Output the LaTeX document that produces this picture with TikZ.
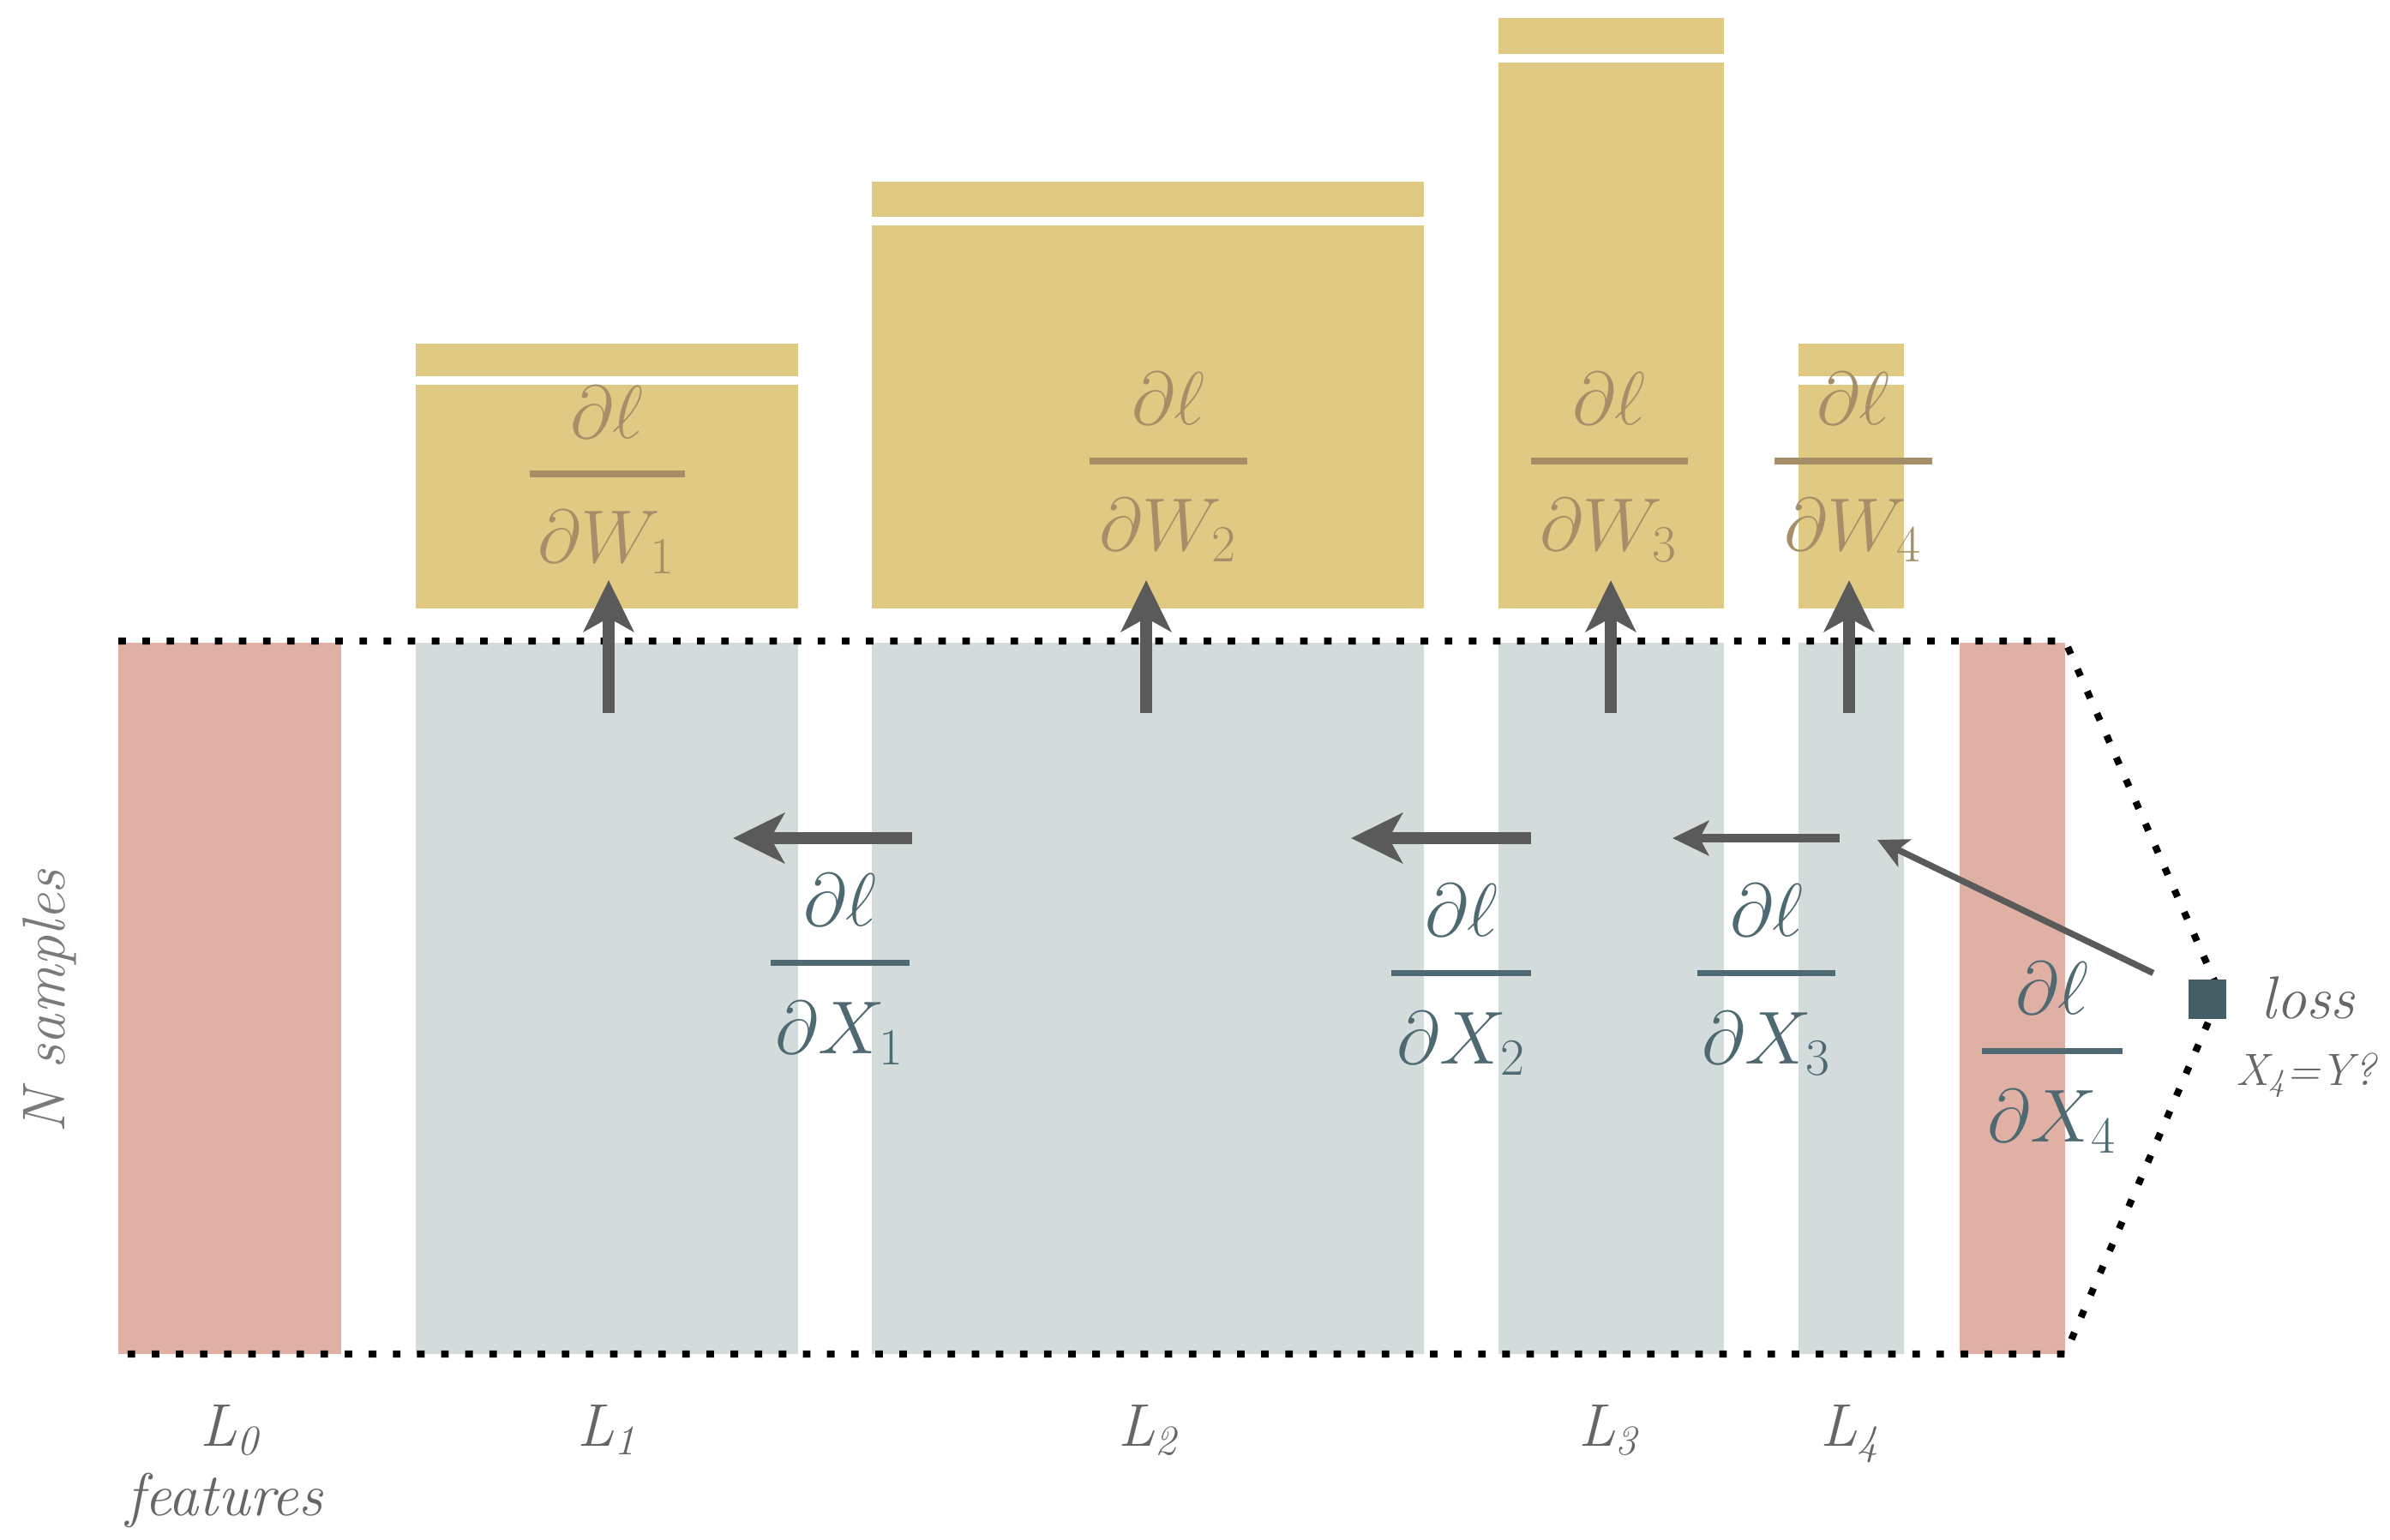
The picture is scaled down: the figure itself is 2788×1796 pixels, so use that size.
\documentclass[tikz,border=0pt]{standalone}
\usetikzlibrary{arrows.meta}
\DeclareMathSizes{24.88}{24.88}{17.28}{14.4}
\definecolor{wgold}{HTML}{DFC983}
\definecolor{xblue}{HTML}{D3DCDB}
\definecolor{xred}{HTML}{E0B0A4}
\definecolor{wtext}{HTML}{A68F68}
\definecolor{xtext}{HTML}{4E6971}
\definecolor{arrowc}{HTML}{5A5A5A}
\definecolor{lossc}{HTML}{445E66}
\definecolor{labc}{HTML}{666666}
\definecolor{nlab}{HTML}{7A7A7A}
\begin{document}
\begin{tikzpicture}[x=0.01cm, y=-0.01cm,
  wbox/.style={fill=wgold},
  bbox/.style={fill=xblue},
  rbox/.style={fill=xred},
  gapline/.style={draw=white, line width=2.6pt},
  dotline/.style={draw=black, line width=2.3pt, dash pattern=on 2.5pt off 5.5pt},
  bigarrow/.style={draw=arrowc, line width=4pt, -{Stealth[length=17pt, width=16.5pt, inset=4.5pt]}},
  midarrow/.style={draw=arrowc, line width=2.9pt, -{Stealth[length=12pt, width=11.5pt, inset=3pt]}},
  thinarrow/.style={draw=arrowc, line width=2.1pt, -{Stealth[length=10pt, width=10pt, inset=2.5pt]}},
  wfrac/.style={text=wtext, font=\fontsize{24.88}{30}\selectfont, inner sep=0pt, anchor=base},
  xfrac/.style={text=xtext, font=\fontsize{24.88}{30}\selectfont, inner sep=0pt, anchor=base},
  wbar/.style={draw=wtext, line width=2.3pt},
  xbar/.style={draw=xtext, line width=2pt},
  lab/.style={text=labc, font=\fontsize{20}{24}\selectfont\itshape, inner sep=0pt, anchor=base},
]
\useasboundingbox (0,0) rectangle (2788,1796);

% ---- data columns ----
\fill[rbox] (138,750) rectangle (398,1580);
\fill[bbox] (485,750) rectangle (931,1580);
\fill[bbox] (1017,750) rectangle (1661,1580);
\fill[bbox] (1748,750) rectangle (2011,1580);
\fill[bbox] (2098,750) rectangle (2221,1580);
\fill[rbox] (2286,750) rectangle (2409,1580);

% ---- weight gradient boxes ----
\fill[wbox] (485,401) rectangle (931,710);
\draw[gapline] (485,444) -- (931,444);
\fill[wbox] (1017,212) rectangle (1661,710);
\draw[gapline] (1017,258) -- (1661,258);
\fill[wbox] (1748,21) rectangle (2011,710);
\draw[gapline] (1748,68) -- (2011,68);
\fill[wbox] (2098,401) rectangle (2221,710);
\draw[gapline] (2098,444) -- (2221,444);

% ---- dotted outline ----
\coordinate (tl) at (138,748);
\coordinate (tr) at (2409,748);
\coordinate (apex) at (2590,1160);
\coordinate (br) at (2409,1580);
\coordinate (bl) at (138,1580);
\draw[dotline] (tl) -- (tr) -- (apex) -- (br) -- (bl);

% ---- dW fractions ----
\node[wfrac] (wn1) at (708,511) {$\partial\ell$};
\draw[wbar] (618,553) -- (799,553);
\node[wfrac] (wd1) at (708,656) {$\partial W_1$};

\node[wfrac] (wn2) at (1363,495) {$\partial\ell$};
\draw[wbar] (1271,538) -- (1455,538);
\node[wfrac] (wd2) at (1363,642) {$\partial W_2$};

\node[wfrac] (wn3) at (1877,495) {$\partial\ell$};
\draw[wbar] (1786,538) -- (1969,538);
\node[wfrac] (wd3) at (1877,642) {$\partial W_3$};

\node[wfrac] (wn4) at (2162,495) {$\partial\ell$};
\draw[wbar] (2070,538) -- (2254,538);
\node[wfrac] (wd4) at (2162,642) {$\partial W_4$};

% ---- dX fractions ----
\node[xfrac] (xn1) at (980,1080) {$\partial\ell$};
\draw[xbar] (899,1123) -- (1061,1123);
\node[xfrac] (xd1) at (980,1229) {$\partial X_1$};

\node[xfrac] (xn2) at (1705,1092) {$\partial\ell$};
\draw[xbar] (1623,1135) -- (1786,1135);
\node[xfrac] (xd2) at (1705,1241) {$\partial X_2$};

\node[xfrac] (xn3) at (2061,1092) {$\partial\ell$};
\draw[xbar] (1980,1135) -- (2141,1135);
\node[xfrac] (xd3) at (2061,1241) {$\partial X_3$};

\node[xfrac] (xn4) at (2394,1183) {$\partial\ell$};
\draw[xbar] (2312,1226) -- (2476,1226);
\node[xfrac] (xd4) at (2394,1332) {$\partial X_4$};

% ---- upward arrows ----
\coordinate (u1s) at (710,832);  \coordinate (u1e) at (710,677);
\coordinate (u2s) at (1337,832); \coordinate (u2e) at (1337,677);
\coordinate (u3s) at (1879,832); \coordinate (u3e) at (1879,677);
\coordinate (u4s) at (2157,832); \coordinate (u4e) at (2157,677);
\draw[bigarrow] (u1s) -- (u1e);
\draw[bigarrow] (u2s) -- (u2e);
\draw[bigarrow] (u3s) -- (u3e);
\draw[bigarrow] (u4s) -- (u4e);

% ---- backward arrows ----
\coordinate (h1s) at (1064,978); \coordinate (h1e) at (855,978);
\coordinate (h2s) at (1786,978); \coordinate (h2e) at (1576,978);
\coordinate (h3s) at (2146,978); \coordinate (h3e) at (1951,978);
\draw[bigarrow] (h1s) -- (h1e);
\draw[bigarrow] (h2s) -- (h2e);
\draw[midarrow] (h3s) -- (h3e);

% ---- loss ----
\node[fill=lossc, minimum width=0.44cm, minimum height=0.46cm, inner sep=0pt] (loss) at (2575,1166) {};
\coordinate (dtip) at (2190,980);
\draw[thinarrow, shorten <=0.45cm] (loss) -- (dtip);
\node[lab] (losslab) at (2692,1188) {loss};
\node[lab, font=\fontsize{15}{18}\selectfont\itshape] (cmp) at (2690,1266) {X\textsubscript{4}=Y?};

% ---- bottom labels ----
\node[lab] (l0) at (268,1687) {L\textsubscript{0}};
\node[lab] (feat) at (262,1768) {features};
\node[lab] (l1) at (708,1687) {L\textsubscript{1}};
\node[lab] (l2) at (1339,1687) {L\textsubscript{2}};
\node[lab] (l3) at (1876,1687) {L\textsubscript{3}};
\node[lab] (l4) at (2158,1687) {L\textsubscript{4}};

% ---- N samples ----
\node[lab, text=nlab, anchor=center, rotate=90] (ns) at (58,1169) {N samples};
\end{tikzpicture}
\end{document}
